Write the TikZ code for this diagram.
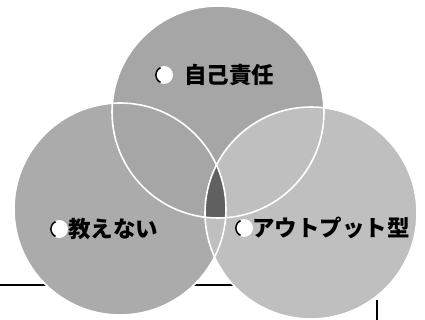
\documentclass[tikz,border=0pt]{standalone}
\usepackage{fontspec}
\newfontfamily\cjk{Noto Sans CJK JP}
\definecolor{topgray}{gray}{0.65}
\definecolor{leftgray}{gray}{0.67}
\definecolor{rightgray}{gray}{0.75}
\definecolor{coregray}{gray}{0.38}
\tikzset{
  ring/.style={draw=white, line width=1.6pt},
  bullet/.style={circle, fill=white, minimum size=18pt, inner sep=0pt,
    path picture={\draw[black, line width=1.6pt] (path picture bounding box.center) ++(115:8.2pt) arc (115:245:8.2pt);}},
  label/.style={anchor=west, inner sep=0pt, font=\cjk\bfseries\fontsize{22.5pt}{24pt}\selectfont},
  mark line/.style={black, line width=1.6pt}
}
\begin{document}
\begin{tikzpicture}[x=1pt, y=-1pt]
\useasboundingbox (0,0) rectangle (425,320);
% stray page lines
\draw[mark line] (0,285) -- (236,285);
\draw[mark line, line width=2pt] (377,300) -- (377,320);
% circles
\coordinate (ct) at (218,112);
\coordinate (cl) at (120,209);
\coordinate (cr) at (311,213);
\fill[leftgray] (cl) circle (106);
\fill[topgray] (ct) circle (106);
\fill[rightgray] (cr) circle (106);
\begin{scope}
  \clip (ct) circle (106);
  \clip (cl) circle (106);
  \fill[coregray] (cr) circle (106);
\end{scope}
\draw[ring] (cl) circle (106);
\draw[ring] (ct) circle (106);
\draw[ring] (cr) circle (106);
% labels
\node[bullet] (b1) at (164,75) {};
\node[label] (t1) at (184,75) {自己責任};
\node[bullet] (b2) at (59,229) {};
\node[label] (t2) at (68,229) {教えない};
\node[bullet] (b3) at (244,228) {};
\node[label] (t3) at (252,228) {アウトプット型};
\end{tikzpicture}
\end{document}
